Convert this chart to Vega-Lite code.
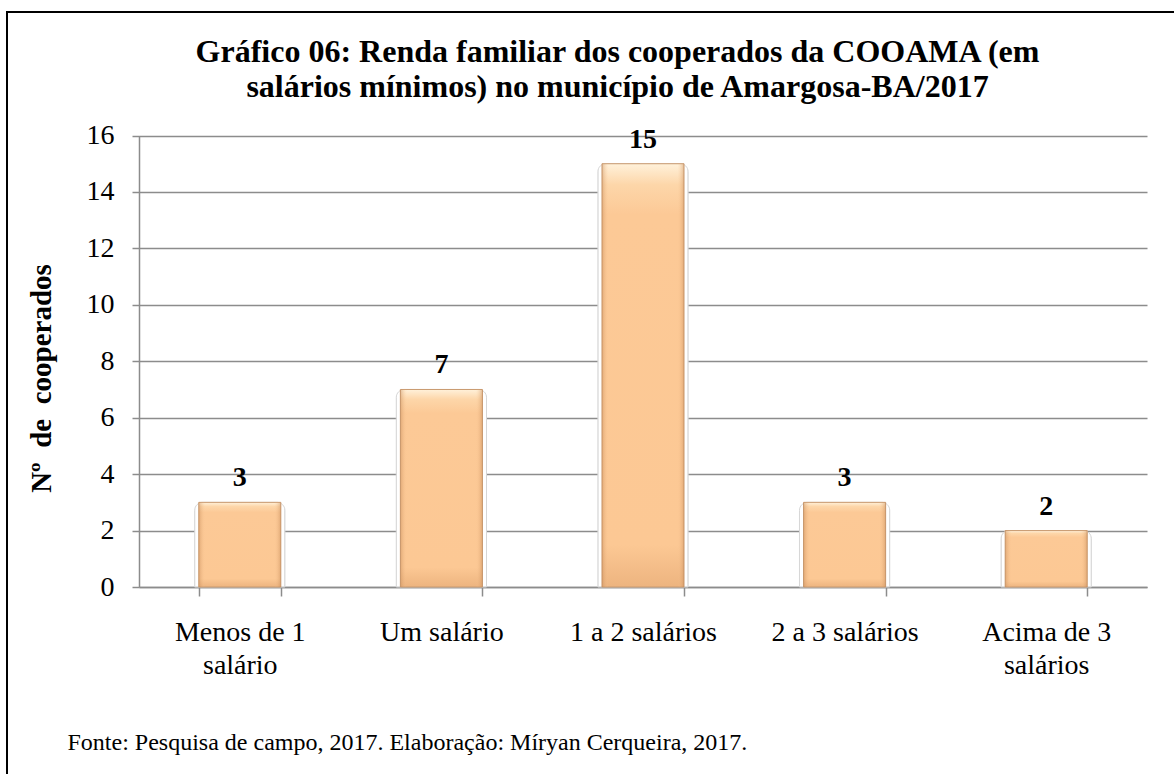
{
  "$schema": "https://vega.github.io/schema/vega-lite/v6.json",
  "width": 1167,
  "height": 762,
  "autosize": {"type": "none"},
  "padding": {"left": 7, "top": 12, "right": 0, "bottom": 0},
  "background": "white",
  "config": {
    "view": {"stroke": "black", "strokeWidth": 2, "strokeDash": [1167, 1929, 762]},
    "font": "Liberation Serif"
  },
  "title": {
    "text": ["Gráfico 06: Renda familiar dos cooperados da COOAMA (em", "salários mínimos) no município de Amargosa-BA/2017"],
    "font": "Liberation Serif",
    "fontSize": 32,
    "fontWeight": "bold",
    "color": "black",
    "lineHeight": 35,
    "anchor": "middle",
    "frame": "group",
    "baseline": "alphabetic",
    "offset": -117,
    "dx": 27
  },
  "data": {
    "values": [
      {"faixa": "Menos de 1 salário", "n": 3},
      {"faixa": "Um salário", "n": 7},
      {"faixa": "1 a 2 salários", "n": 15},
      {"faixa": "2 a 3 salários", "n": 3},
      {"faixa": "Acima de 3 salários", "n": 2}
    ]
  },
  "encoding": {
    "x": {
      "field": "faixa",
      "type": "nominal",
      "sort": null,
      "scale": {"range": [132, 1140], "paddingInner": 0.593, "paddingOuter": 0.2965},
      "axis": {
        "orient": "bottom",
        "offset": -187,
        "grid": false,
        "tickSize": 9,
        "tickBand": "extent",
        "tickColor": "#8c8c8c",
        "tickWidth": 1.5,
        "domainColor": "#8c8c8c",
        "domainWidth": 1.5,
        "labelAngle": 0,
        "labelFont": "Liberation Serif",
        "labelFontSize": 28,
        "labelColor": "black",
        "labelBaseline": "alphabetic",
        "labelPadding": 44,
        "labelLineHeight": 33,
        "labelExpr": "datum.label == 'Menos de 1 salário' ? ['Menos de 1', 'salário'] : datum.label == 'Acima de 3 salários' ? ['Acima de 3', 'salários'] : datum.label",
        "title": "Fonte: Pesquisa de campo, 2017. Elaboração: Míryan Cerqueira, 2017.",
        "titleFont": "Liberation Serif",
        "titleFontSize": 24,
        "titleFontWeight": "normal",
        "titleColor": "black",
        "titleX": 60,
        "titleY": 162,
        "titleAlign": "left",
        "titleAnchor": "start",
        "titleBaseline": "alphabetic"
      }
    },
    "y": {
      "field": "n",
      "type": "quantitative",
      "scale": {"domain": [0, 16], "range": [575, 123.5], "nice": false},
      "axis": {
        "offset": -132,
        "values": [0, 2, 4, 6, 8, 10, 12, 14, 16],
        "grid": true,
        "gridColor": "#8c8c8c",
        "gridWidth": 1.5,
        "tickSize": 7,
        "tickColor": "#8c8c8c",
        "tickWidth": 1.5,
        "domainColor": "#8c8c8c",
        "domainWidth": 1.5,
        "labelFont": "Liberation Serif",
        "labelFontSize": 28,
        "labelColor": "black",
        "labelPadding": 18,
        "labelBaseline": "middle",
        "title": "Nº\u00a0 de\u00a0 cooperados",
        "titleFont": "Liberation Serif",
        "titleFontSize": 29,
        "titleFontWeight": "bold",
        "titleColor": "black",
        "titleBaseline": "alphabetic",
        "titleAngle": -90,
        "titleAlign": "center",
        "titleX": -89,
        "titleY": 366
      }
    }
  },
  "layer": [
    {
      "mark": {"type": "bar", "width": {"band": 1.1}, "fill": "white", "stroke": "#d6d6d6", "strokeWidth": 1, "cornerRadiusTopLeft": 8, "cornerRadiusTopRight": 8}
    },
    {
      "mark": {
        "type": "bar",
        "stroke": "#c99a70",
        "strokeWidth": 1,
        "fill": {
          "gradient": "linear", "x1": 0, "y1": 0, "x2": 0, "y2": 1,
          "stops": [
            {"offset": 0, "color": "#FFF1DA"},
            {"offset": 0.05, "color": "#FDD6A9"},
            {"offset": 0.12, "color": "#FCC996"},
            {"offset": 0.9, "color": "#FCC894"},
            {"offset": 1, "color": "#EDB47F"}
          ]
        }
      }
    },
    {
      "mark": {
        "type": "bar",
        "fill": {
          "gradient": "linear", "x1": 0, "y1": 0, "x2": 1, "y2": 0,
          "stops": [
            {"offset": 0, "color": "rgba(190,130,80,0.45)"},
            {"offset": 0.08, "color": "rgba(252,200,150,0)"},
            {"offset": 0.92, "color": "rgba(252,200,150,0)"},
            {"offset": 1, "color": "rgba(190,130,80,0.45)"}
          ]
        }
      }
    },
    {
      "mark": {"type": "text", "font": "Liberation Serif", "fontSize": 28, "fontWeight": "bold", "baseline": "alphabetic", "dy": -16, "color": "black"},
      "encoding": {"text": {"field": "n", "type": "quantitative"}}
    }
  ]
}
